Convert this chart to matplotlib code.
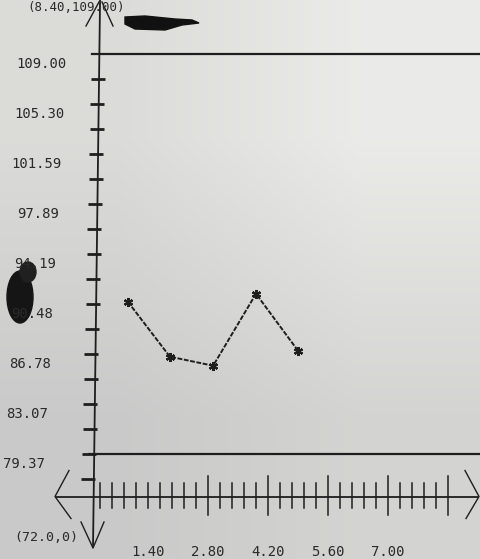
import numpy as np
import matplotlib
matplotlib.use("Agg")
import matplotlib.pyplot as plt
from matplotlib.patches import Polygon, Ellipse

# data
x_vals = [0.93, 1.91, 2.92, 3.92, 4.90]
y_vals = [90.65, 86.58, 85.91, 91.24, 87.02]

y_label_vals = [109.00, 105.30, 101.59, 97.89, 94.19, 90.48, 86.78, 83.07, 79.37]
y_labels = ["109.00", "105.30", "101.59", "97.89", "94.19", "90.48", "86.78", "83.07", "79.37"]
x_label_vals = [1.40, 2.80, 4.20, 5.60, 7.00]
x_labels = ["1.40", "2.80", "4.20", "5.60", "7.00"]
origin_label = "(72.0,0)"
top_label = "(8.40,109.00)"
upper_limit = 109.00
lower_limit = 79.37

# geometry of the printout (pixels)
W, H = 481, 559
PX_X = 60 / 1.4          # px per x unit
PX_Y = 50 / 3.70375      # px per y unit
X0 = 88                  # px of x = 0
Y109 = 54                # px of y = 109
AXIS_Y = 76.22           # where the x axis sits

INK = "#1e1e1e"
FONT = "DejaVu Sans Mono"


def px(xp, yp):
    """pixel position -> data coords"""
    return (xp - X0) / PX_X, 109 - (yp - Y109) / PX_Y


def ypx(v):
    return Y109 + (109 - v) * PX_Y


def axis_xpx(yp):
    # the photo is a bit skewed, the y axis leans right towards the top
    return 100 - 12 * (yp / 497)


fig = plt.figure(figsize=(W / 100, H / 100), dpi=100)

# photo background
bg = fig.add_axes([0, 0, 1, 1])
grad = np.array([[[0.86, 0.86, 0.85], [0.92, 0.92, 0.91]],
                 [[0.79, 0.79, 0.79], [0.83, 0.83, 0.82]]])
bg.imshow(grad, aspect="auto", interpolation="bilinear", extent=[0, 1, 0, 1])
bg.axis("off")

ax = fig.add_axes([0, 0, 1, 1])
ax.patch.set_alpha(0)
ax.set_xlim(px(0, 0)[0], px(W, 0)[0])
ax.set_ylim(px(0, H)[1], px(0, 0)[1])
ax.axis("off")

lk = dict(color=INK, lw=1.3, solid_capstyle="butt")

# y axis (slightly slanted)
ax.plot(*zip(px(axis_xpx(-5), -5), px(93, 548)), **lk)
# top open arrow
ax.plot(*zip(px(86, 26), px(99, 2)), color=INK, lw=1.0)
ax.plot(*zip(px(113, 26), px(102, 2)), color=INK, lw=1.0)
# bottom open arrow
ax.plot(*zip(px(81, 522), px(93, 548), px(104, 522)), color=INK, lw=1.0)

# y ticks every half label step
step = (upper_limit - lower_limit) / 16
for k in range(1, 18):
    v = upper_limit - k * step
    yp = ypx(v)
    c = axis_xpx(yp)
    ax.plot(*zip(px(c - 7, yp), px(c + 7, yp)), color=INK, lw=2.0, solid_capstyle="butt")

# y labels, printed a little under their ticks
for v, s in zip(y_label_vals, y_labels):
    yp = ypx(v) + 10
    right = 67 - 22 * (yp - 64) / 400
    ax.text(*px(right, yp), s, ha="right", va="center", fontsize=10,
            family=FONT, color="#2a2a2a")

# limit lines
ax.plot(*zip(px(92, ypx(upper_limit)), px(W, ypx(upper_limit))), color=INK, lw=1.6)
ax.plot(*zip(px(89, ypx(lower_limit)), px(W, ypx(lower_limit))), color=INK, lw=1.6)

# x axis with open arrows at both ends
axis_yp = ypx(AXIS_Y)
ax.plot(*zip(px(55, axis_yp), px(478, axis_yp)), **lk)
ax.plot(*zip(px(69, axis_yp - 26), px(55, axis_yp), px(71, axis_yp + 22)), color=INK, lw=1.0)
ax.plot(*zip(px(465, axis_yp - 26), px(479, axis_yp), px(466, axis_yp + 22)), color=INK, lw=1.0)

# x ticks: 30 small ones, every 5th from the 10th is long
for k in range(1, 31):
    xv = k * 0.28
    if k >= 10 and k % 5 == 0:
        y0, y1 = axis_yp - 21, axis_yp + 18
    else:
        y0, y1 = axis_yp - 14, axis_yp + 11
    ax.plot([xv, xv], [px(0, y0)[1], px(0, y1)[1]], color=INK, lw=1.1)

for v, s in zip(x_label_vals, x_labels):
    ax.text(v, px(0, 552)[1], s, ha="center", va="center", fontsize=10,
            family=FONT, color="#2a2a2a")

ax.text(*px(46, 537), origin_label, ha="center", va="center", fontsize=9.5,
        family=FONT, color="#2a2a2a")
ax.text(*px(76, 7), top_label, ha="center", va="center", fontsize=9,
        family=FONT, color="#2a2a2a")

# the measured series
ax.plot(x_vals, y_vals, color=INK, lw=1.4, linestyle=(0, (2.5, 0.8)),
        marker=(6, 2, 0), markersize=6.5, markeredgewidth=1.6)

# marker-pen scribbles on the sheet
ax.add_patch(Polygon([px(125, 17), px(145, 16), px(175, 19), px(192, 20), px(199, 23),
                      px(182, 25), px(165, 30), px(135, 29), px(125, 24)],
                     closed=True, color="#111111"))
ax.add_patch(Ellipse(px(20, 297), width=26 / PX_X, height=52 / PX_Y, angle=0,
                     color="#151515"))
ax.add_patch(Ellipse(px(28, 272), width=16 / PX_X, height=20 / PX_Y, angle=0,
                     color="#202020"))

fig.savefig("out.png", dpi=100)
